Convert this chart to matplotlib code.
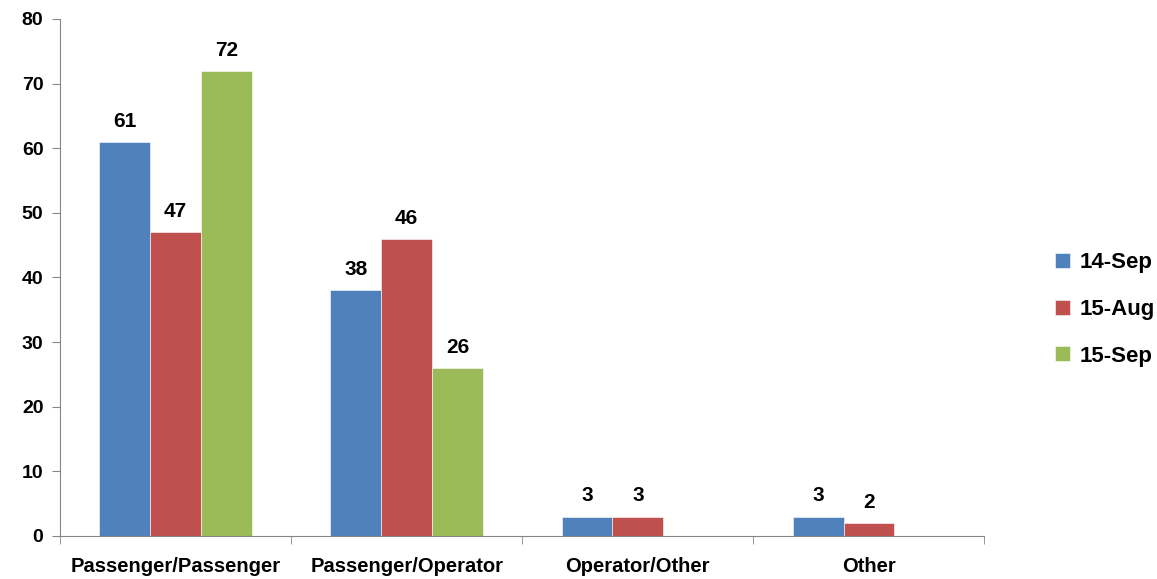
import matplotlib
matplotlib.use('Agg')
import matplotlib.pyplot as plt
import numpy as np

## categories and series
categories = ['Passenger/Passenger', 'Passenger/Operator', 'Operator/Other', 'Other']
series_names = ['14-Sep', '15-Aug', '15-Sep']
sep14 = [61, 38, 3, 3]
aug15 = [47, 46, 3, 2]
sep15 = [72, 26, np.nan, np.nan]
colors = ['#4F81BD', '#C0504D', '#9BBB59']

plt.rcParams['font.family'] = ['Liberation Sans', 'DejaVu Sans']
plt.rcParams['font.weight'] = 'bold'

fig = plt.figure(figsize=(11.57, 5.79), dpi=100)
ax = fig.add_axes([0.0519, 0.0743, 0.799, 0.893])

x = np.arange(len(categories))
w = 0.22
for i, (vals, name) in enumerate(zip([sep14, aug15, sep15], series_names)):
    pos = x + (i - 1) * w
    bars = ax.bar(pos, vals, width=w, color=colors[i], label=name,
                  edgecolor='white', linewidth=0.4)
    for p, v in zip(pos, vals):
        if np.isnan(v):
            continue
        ax.annotate('{:d}'.format(int(v)), (p, v), xytext=(0, 8),
                    textcoords='offset points', ha='center', va='bottom',
                    fontsize=15, fontweight='bold')

ax.set_xlim(-0.5, 3.5)
ax.set_ylim(0, 80)
ax.set_yticks(np.arange(0, 81, 10))
ax.set_xticks(x)
ax.set_xticklabels(categories)
ax.set_xticks(np.arange(-0.5, 3.6, 1), minor=True)
ax.tick_params(axis='x', which='major', length=0, pad=15, labelsize=14.5)
ax.tick_params(axis='x', which='minor', length=6, color='#868686', direction='out')
ax.tick_params(axis='y', length=6, color='#868686', labelsize=14, pad=6)
for lbl in ax.get_xticklabels() + ax.get_yticklabels():
    lbl.set_fontweight('bold')

ax.spines['top'].set_visible(False)
ax.spines['right'].set_visible(False)
ax.spines['left'].set_color('#868686')
ax.spines['bottom'].set_color('#868686')

leg = ax.legend(loc='center left', bbox_to_anchor=(1.055, 0.438), frameon=False,
                prop={'size': 16, 'weight': 'bold'}, labelspacing=1.15,
                handlelength=0.65, handleheight=0.65, handletextpad=0.45)

fig.savefig('out.png', dpi=100)
